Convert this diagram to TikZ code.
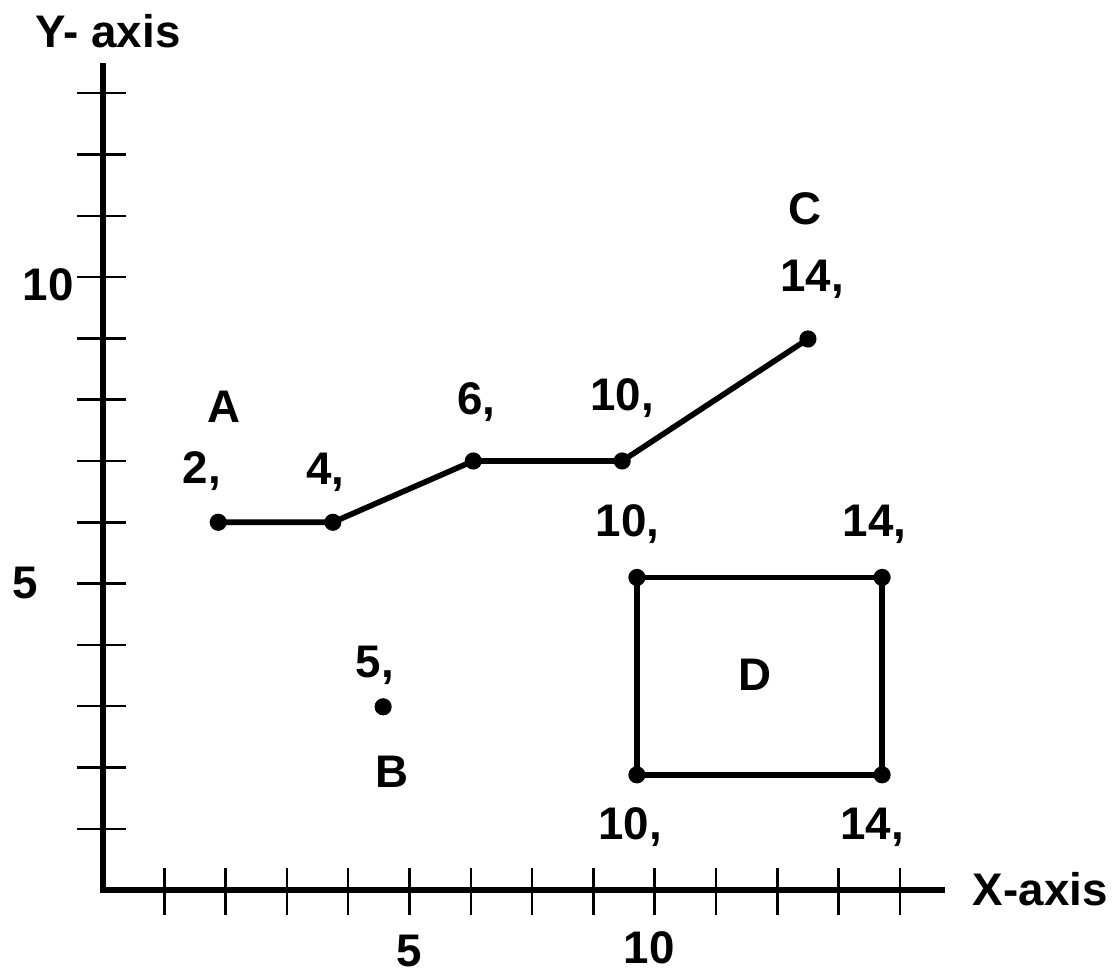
\documentclass[tikz,border=0pt]{standalone}
\usepackage{fontspec}
\setmainfont{Liberation Sans}
\usetikzlibrary{positioning}

\begin{document}
\begin{tikzpicture}[x=0.613cm, y=0.613cm,
    lbl/.style={font=\fontsize{13}{15}\selectfont\bfseries, inner sep=0pt},
    axisline/.style={line width=1.8pt},
    tickline/.style={line width=0.7pt},
    seg/.style={line width=1.6pt, line join=round}]
  \useasboundingbox (-1.680,-1.321) rectangle (16.46,14.52);
  % axes
  \coordinate (ytop) at (0,13.49);
  \coordinate (orig) at (0,0);
  \coordinate (xend) at (13.74,0);
  \draw[axisline] (ytop) -- (orig) -- (xend);
  \foreach \k in {1,...,13} \draw[tickline] (-0.42,\k) -- (0.38,\k);
  \foreach \k in {1,...,13} \draw[tickline] (\k,0.36) -- (\k,-0.4);
  \node[lbl, anchor=base west] (ylab) at (-1.109,13.75) {Y- axis};
  \node[lbl, anchor=base west] (xlab) at (14.18,-0.245) {X-axis};
  \node[lbl, anchor=base west] (y10) at (-1.32,9.62) {10};
  \node[lbl, anchor=base west] (y5) at (-1.485,4.75) {5};
  \node[lbl, anchor=base] (x5) at (4.99,-1.24) {5};
  \node[lbl, anchor=base] (x10) at (8.91,-1.19) {10};
  % points
  \coordinate (a1) at (1.88,6);
  \coordinate (a2) at (3.75,6);
  \coordinate (a3) at (6.04,7);
  \coordinate (a4) at (8.47,7);
  \coordinate (c1) at (11.5,8.99);
  \coordinate (b1) at (4.57,2.99);
  \coordinate (d1) at (8.71,5.1);
  \coordinate (d2) at (12.71,5.1);
  \coordinate (d3) at (12.71,1.88);
  \coordinate (d4) at (8.71,1.88);
  \draw[seg] (a1) -- (a2) -- (a3) -- (a4) -- (c1);
  \draw[seg] (d1) -- (d2) -- (d3) -- (d4) -- cycle;
  \foreach \p in {a1,a2,a3,a4,c1,b1,d1,d2,d3,d4}
    \fill (\p) circle (0.14);
  % labels
  \node[lbl, anchor=base] (alab) at (1.97,7.63) {A};
  \node[lbl, anchor=base west] (a1lab) at (1.29,6.64) {2,};
  \node[lbl, anchor=base west] (a2lab) at (3.31,6.61) {4,};
  \node[lbl, anchor=base west] (a3lab) at (5.77,7.75) {6,};
  \node[lbl, anchor=base west] (a4lab) at (7.94,7.83) {10,};
  \node[lbl, anchor=base] (clab) at (11.45,10.85) {C};
  \node[lbl, anchor=base west] (c1lab) at (11.04,9.76) {14,};
  \node[lbl, anchor=base west] (b1lab) at (4.11,3.47) {5,};
  \node[lbl, anchor=base] (blab) at (4.71,1.68) {B};
  \node[lbl, anchor=base west] (d1lab) at (8.03,5.76) {10,};
  \node[lbl, anchor=base west] (d2lab) at (12.06,5.76) {14,};
  \node[lbl, anchor=base west] (d4lab) at (8.07,0.82) {10,};
  \node[lbl, anchor=base west] (d3lab) at (12.02,0.82) {14,};
  \node[lbl, anchor=base] (dlab) at (10.64,3.26) {D};
\end{tikzpicture}
\end{document}
